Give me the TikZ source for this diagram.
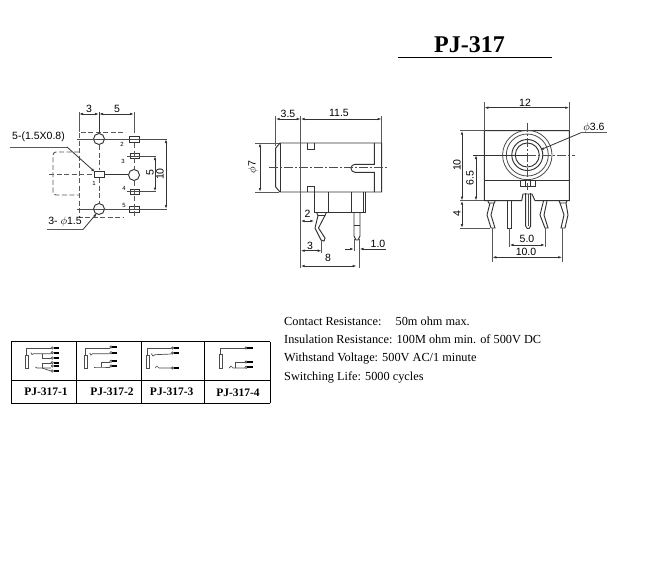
\documentclass[tikz,border=0pt]{standalone}
\usepackage{tikz}
\usepackage{fontspec}
\setmainfont{Liberation Serif}
\setsansfont{Liberation Sans}
\usetikzlibrary{arrows.meta}

\tikzset{
  part/.style={line width=0.95pt,black!80},
  thin part/.style={line width=0.8pt,black!70},
  dash part/.style={line width=0.95pt,black!65,dash pattern=on 5pt off 2.5pt},
  center part/.style={line width=0.8pt,black!70,dash pattern=on 9pt off 2pt on 2pt off 2pt},
  dim/.style={line width=0.8pt,black!80,{Latex[length=4pt,width=2.6pt]}-{Latex[length=4pt,width=2.6pt]}},
  ext/.style={line width=0.8pt,black!65},
  arrow end/.style={line width=0.8pt,black!80,-{Latex[length=4pt,width=2.6pt]}},
  size/.style={font=\sffamily\fontsize{10.5}{11}\selectfont,inner sep=0pt},
  tiny size/.style={font=\sffamily\fontsize{6}{7}\selectfont,inner sep=0pt},
  note/.style={font=\fontsize{12.3}{14}\selectfont,inner sep=0pt,anchor=base west},
  cell/.style={font=\bfseries\fontsize{11.5}{13}\selectfont,inner sep=0pt},
  wire/.style={line width=0.7pt,black!70},
  bar/.style={line width=2pt,black}
}

\begin{document}
\begin{tikzpicture}[x=1pt,y=-1pt]
\useasboundingbox (0,0) rectangle (646,573);
\fill[white] (0,0) rectangle (646,573);

% title
\node[font=\bfseries\fontsize{24}{26}\selectfont,inner sep=0pt] (title) at (469.5,45) {PJ-317};
\draw[line width=1.1pt] (398,57.5) -- (552,57.5);

% footprint
\draw[dash part] (123,132) -- (79,132) -- (79,217) -- (123,217);
\draw[dash part,rounded corners=3pt] (79,152) -- (53,152) -- (53,195) -- (79,195);
\draw[dash part] (49,174) -- (93,174);
\draw[part] (99,112) -- (99,133);
\draw[dash part] (99,145) -- (99,170);
\draw[dash part] (99,178) -- (99,203);
\draw[part] (99,139) circle (5.5);
\draw[part] (99,209) circle (5.5);
\draw[part] (134,175) circle (5.5);
\draw[part] (94,171) rectangle (104,177);
\draw[part] (105,174) -- (128,174);
\draw[part] (129,136) rectangle (139,142);
\draw[part] (130,153.5) rectangle (139,158.5);
\draw[part] (130,189) rectangle (139,194);
\draw[part] (129,206) rectangle (139,212);
\draw[thin part] (77,139) -- (167,139);
\draw[thin part] (127,156) -- (156,156);
\draw[thin part] (127,191.5) -- (156,191.5);
\draw[thin part] (77,209) -- (167,209);
\draw[ext] (134,112) -- (134,133);
\draw[dash part] (134,143) -- (134,169);
\draw[dash part] (134,181) -- (134,217);
\draw[ext] (79,112) -- (79,132);
\draw[dim] (79,114) -- (99,114);
\draw[dim] (99,114) -- (134,114);
\draw[dim] (155,156) -- (155,191.5);
\draw[dim] (166,139) -- (166,209);
\node[size] (dimA) at (89,109) {3};
\node[size] (dimB) at (117,109) {5};
\node[size,rotate=90] (dimC) at (150,173) {5};
\node[size,rotate=90] (dimD) at (160,174) {10};
\node[tiny size] (pinA) at (94,183) {1};
\node[tiny size] (pinB) at (122,144) {2};
\node[tiny size] (pinC) at (123,161) {3};
\node[tiny size] (pinD) at (124,188) {4};
\node[tiny size] (pinE) at (124,205) {5};
\node[size] (slot) at (38.5,137) {5-(1.5X0.8)};
\draw[ext] (10,147) -- (67,147);
\draw[arrow end] (67,147) -- (95,172);
\node[size] (hole) at (65,222) {3- $\phi$1.5};
\draw[ext] (47,229.5) -- (83,229.5);
\draw[arrow end] (83,229.5) -- (97,213);

% side view
\draw[part] (275.7,148) -- (280,143) -- (381.7,143) -- (381.7,192) -- (280,192) -- (275.7,187) -- cycle;
\draw[part] (280,143) -- (280,192);
\draw[part] (307.3,143) -- (307.3,149) -- (314.3,149) -- (314.3,143);
\draw[part] (307.3,192) -- (307.3,186) -- (314.3,186) -- (314.3,192);
\draw[part] (374.3,143) -- (374.3,164.3) -- (355,164.3) arc (270:90:4) -- (374.3,172.3) -- (374.3,192);
\draw[center part] (269,167.3) -- (388,167.3);
\draw[part] (314.3,192) -- (314.3,212.3) -- (365.7,212.3) -- (365.7,192);
\draw[part] (328.7,192) -- (328.7,212.3);
\draw[part] (351.7,192) -- (351.7,212.3);
\draw[part] (363,192) -- (363,212.3);
\draw[part] (354,212.3) -- (354,236) -- (356,240) -- (358,240) -- (360,236) -- (360,212.3);
\draw[part] (354,225) -- (360,225);
\draw[part] (316.5,212.3) -- (318,215.5) -- (325,215.5) -- (326.5,212.3);
\draw[part] (318,215.5) -- (315,228) -- (321,240) -- (324,241) -- (325,238) -- (318.5,228) -- (325,215.5);
\draw[ext] (275.7,116) -- (275.7,146);
\draw[ext] (300.7,116) -- (300.7,268);
\draw[ext] (381.7,116) -- (381.7,143);
\draw[dim] (275.7,119) -- (300.7,119);
\draw[dim] (300.7,119) -- (381.7,119);
\draw[ext] (255,143) -- (279,143);
\draw[ext] (255,192) -- (279,192);
\draw[dim] (260,143) -- (260,192);
\draw[dim] (300.7,221) -- (314.3,221);
\draw[ext] (321.7,241) -- (321.7,253);
\draw[dim] (300.7,250.7) -- (321.7,250.7);
\draw[dim] (300.7,266) -- (356.7,266);
\draw[ext] (354,239) -- (354,251);
\draw[ext] (359.5,239) -- (359.5,268);
\draw[arrow end] (345,249) -- (354,249);
\draw[arrow end] (386,249) -- (359.5,249);
\node[size] (dimE) at (288,114) {3.5};
\node[size] (dimF) at (339,113) {11.5};
\node[size,rotate=90] (dimG) at (253,167) {$\phi$7};
\node[size] (dimH) at (307.5,214) {2};
\node[size] (dimI) at (310,246) {3};
\node[size] (dimJ) at (328,258) {8};
\node[size] (dimK) at (378,244) {1.0};

% front view
\draw[part] (484.3,130.7) -- (569.3,130.7) -- (569.3,200.7) -- (535,200.7) -- (532,194) -- (523,194) -- (521.7,200.7) -- (484.3,200.7) -- cycle;
\draw[part] (484.3,180) -- (569.3,180);
\draw[thin part] (527.3,155) circle (24.7);
\draw[thin part] (527.3,155) circle (21);
\draw[part] (527.3,155) circle (15.5);
\draw[part] (527.3,155) circle (12);
\draw[part] (520,180) rectangle (535,186.7);
\draw[part] (525,180) -- (525,186.7);
\draw[part] (530,180) -- (530,186.7);
\draw[center part] (527.3,123) -- (527.3,190);
\draw[center part] (527.3,155) -- (575,155);
\draw[line width=0.9pt,black!80] (473,155) -- (527.3,155);
\draw[part] (525.7,193) -- (525.7,226) -- (527.3,228.5) -- (529,228.5) -- (530.7,226) -- (530.7,193);
\draw[thin part] (528.2,194) -- (528.2,226);
\draw[part] (507.7,201) -- (507.7,228) -- (511.3,228) -- (511.3,201);
\draw[part] (488,200.7) -- (488.5,203) -- (494.5,203) -- (495,200.7);
\draw[part] (490,203) -- (487,215) -- (491,228) -- (495,228) -- (491,215) -- (494,203);
\draw[part] (543.5,201) -- (540,215) -- (545,228) -- (548,228) -- (544,215) -- (547,201);
\draw[part] (559,200.7) -- (560,203) -- (566,203) -- (567,200.7);
\draw[part] (560,203) -- (564,215) -- (561,228) -- (565,228) -- (568,215) -- (566,203);
\draw[ext] (484.3,102) -- (484.3,130.7);
\draw[ext] (569.3,102) -- (569.3,130.7);
\draw[dim] (484.3,107.7) -- (569.3,107.7);
\draw[ext] (460,130.7) -- (484.3,130.7);
\draw[ext] (460,200.7) -- (484.3,200.7);
\draw[ext] (460,228) -- (490,228);
\draw[dim] (462,130.7) -- (462,200.7);
\draw[dim] (462,200.7) -- (462,228);
\draw[dim] (476,155) -- (476,200.7);
\draw[ext] (509.5,228) -- (509.5,247);
\draw[ext] (545,228) -- (545,247);
\draw[dim] (509.5,245) -- (545,245);
\draw[ext] (492.3,228) -- (492.3,262);
\draw[ext] (562.3,228) -- (562.3,262);
\draw[dim] (492.3,257.3) -- (562.3,257.3);
\draw[ext] (581,132.7) -- (606.7,132.7);
\draw[arrow end] (581,132.7) -- (540,150);
\node[size] (dimL) at (525,103) {12};
\node[size,rotate=90] (dimM) at (457,165) {10};
\node[size,rotate=90] (dimN) at (470,178) {6.5};
\node[size,rotate=90] (dimO) at (457,214) {4};
\node[size] (dimP) at (527,239) {5.0};
\node[size] (dimQ) at (526,252) {10.0};
\node[size] (dimR) at (594,128) {$\phi$3.6};

% ratings
\node[note] (ratingA) at (284,325.7) {Contact Resistance:\hspace{10pt} 50m ohm max.};
\node[note] (ratingB) at (284,343.3) {Insulation Resistance: 100M ohm min. of 500V DC};
\node[note] (ratingC) at (284,361.7) {Withstand Voltage: 500V AC/1 minute};
\node[note] (ratingD) at (284,380) {Switching Life: 5000 cycles};

% table
\draw[line width=1pt] (11,341.7) -- (270,341.7);
\draw[line width=1pt] (11,380.5) -- (270,380.5);
\draw[line width=1pt] (11,403.3) -- (270,403.3);
\foreach \xx in {11,76.7,141.7,204.3,270}
  \draw[line width=1pt] (\xx,341.7) -- (\xx,403.3);
\node[cell] (typeA) at (46,392) {PJ-317-1};
\node[cell] (typeB) at (112,392) {PJ-317-2};
\node[cell] (typeC) at (171.7,392) {PJ-317-3};
\node[cell] (typeD) at (238,393) {PJ-317-4};

% PJ-317-1
\draw[wire] (25,355.3) rectangle (28.3,368);
\draw[wire] (26.5,355.3) -- (26.5,348.7) -- (51,348.7);
\draw[wire] (31,352.7) -- (32,354.5) -- (33.5,353.7) -- (51,353.7);
\draw[wire] (42,353.7) -- (42,358) -- (51,358);
\draw[wire] (35.5,367) -- (37,368) -- (42,368) -- (51,368);
\draw[wire] (42,368) -- (42,363) -- (51,363);
\draw[wire] (42,368) -- (51,371);
\foreach \yy in {348,352.7,358,362.7,366,371} {
  \draw[wire,fill=white] (52.2,\yy) circle (1.2);
  \draw[bar] (54,\yy) -- (59,\yy);
}

% PJ-317-2
\draw[wire] (84,355.3) rectangle (87.3,368.7);
\draw[wire] (85.5,355.3) -- (85.5,348.7) -- (109.7,348.7);
\draw[wire] (89.7,353) -- (91,355) -- (92.5,353.7) -- (109.7,353.7);
\draw[wire] (94,367) -- (96,367) -- (101.3,367) -- (109.7,367);
\draw[wire] (101.3,367) -- (101.3,362) -- (109.7,362);
\foreach \yy in {347,352.7,361.3,366} {
  \draw[wire,fill=white] (111,\yy) circle (1.2);
  \draw[bar] (112.3,\yy) -- (117.3,\yy);
}

% PJ-317-3
\draw[wire] (146,355.3) rectangle (149.3,368.7);
\draw[wire] (147.5,355.3) -- (147.5,348.7) -- (171.3,348.7);
\draw[wire] (151.3,353.7) -- (153,356) -- (155,354.7) -- (171.3,354);
\draw[wire] (155,368) -- (157,366) -- (159,368) -- (171.3,368);
\foreach \yy in {348,353,368} {
  \draw[wire,fill=white] (172.5,\yy) circle (1.2);
  \draw[bar] (173.7,\yy) -- (179.3,\yy);
}

% PJ-317-4
\draw[wire] (219,354.7) rectangle (222.3,368);
\draw[wire] (220.7,354.7) -- (220.7,348.7) -- (245,348.7);
\draw[wire] (229,368) -- (231,366) -- (233,368) -- (245,368);
\draw[wire] (235.7,368) -- (235.7,362.7) -- (245,362.7);
\foreach \yy in {348,362,367.3} {
  \draw[wire,fill=white] (246,\yy) circle (1.2);
  \draw[bar] (247.3,\yy) -- (253,\yy);
}

\end{tikzpicture}
\end{document}
